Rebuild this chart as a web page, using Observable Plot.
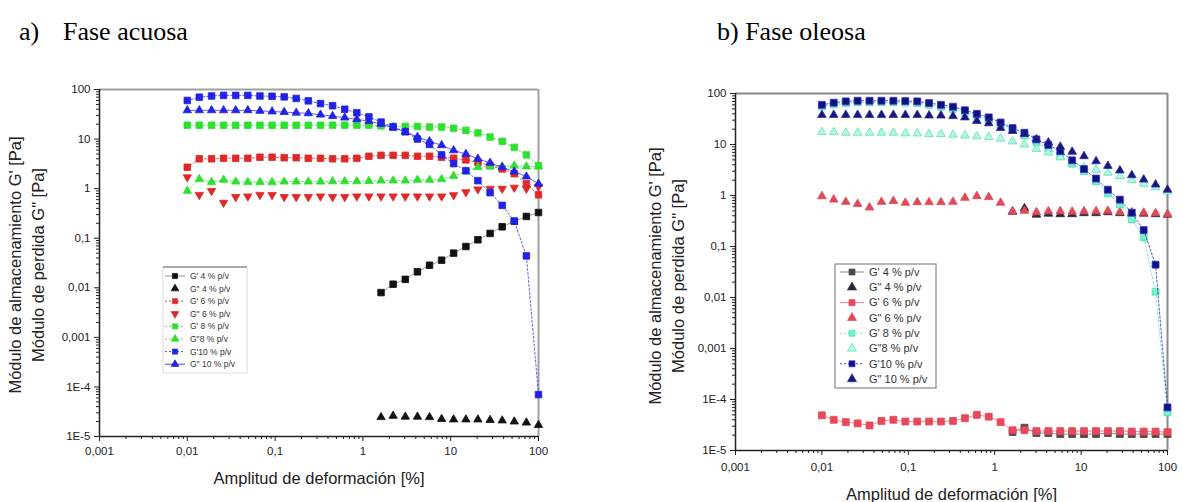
<!DOCTYPE html>
<html><head><meta charset="utf-8">
<script src="https://cdn.jsdelivr.net/npm/d3@7"></script>
<script src="https://cdn.jsdelivr.net/npm/@observablehq/plot@0.6"></script>
<style>
body{margin:0;background:#fff;}
#wrap{position:relative;width:1183px;height:502px;overflow:hidden;background:#fff;}
.panel{position:absolute;top:0;}
.title{position:absolute;font-family:"Liberation Serif","Times New Roman",serif;font-size:26px;line-height:26px;color:#000;white-space:pre;}
#overlay{position:absolute;left:0;top:0;pointer-events:none;}
</style></head><body>
<div id="wrap">
  <div id="pa" class="panel" style="left:0px"></div>
  <div id="pb" class="panel" style="left:590px"></div>
  <div class="title" style="left:19px;top:19px">a)</div>
  <div class="title" style="left:63px;top:19px">Fase acuosa</div>
  <div class="title" style="left:717px;top:19px">b) Fase oleosa</div>
</div>
<script>
// ---------- data ----------
const strain = [0.01, 0.0137, 0.0189, 0.0259, 0.0356, 0.0489, 0.0672, 0.0924, 0.127, 0.174, 0.239, 0.329, 0.452, 0.621, 0.853, 1.17, 1.61, 2.21, 3.04, 4.18, 5.74, 7.88, 10.8, 14.9, 20.4, 28.1, 38.6, 53.0, 72.8, 100];
const N = null;

const legendLabels = ["G' 4 % p/v", "G\" 4 % p/v", "G' 6 % p/v", "G\" 6 % p/v", "G' 8 % p/v", "G\"8 % p/v", "G'10 % p/v", "G\" 10 % p/v"];
const xTicks = [0.001, 0.01, 0.1, 1, 10, 100];
const xTickLabels = ["0,001", "0,01", "0,1", "1", "10", "100"];
const yTicks = [1e-5, 1e-4, 0.001, 0.01, 0.1, 1, 10, 100];
const yTickLabels = ["1E-5", "1E-4", "0,001", "0,01", "0,1", "1", "10", "100"];
const yTitle1 = "Módulo de almacenamiento G' [Pa]";
const yTitle2 = "Módulo de perdida G\" [Pa]";
const xTitle = "Amplitud de deformación [%]";

// a) Fase acuosa
const a_Gp4   = [N,N,N,N,N,N,N,N,N,N,N,N,N,N,N,N, 0.008, 0.0118, 0.0148, 0.021, 0.0285, 0.036, 0.05, 0.068, 0.093, 0.125, 0.17, 0.22, 0.275, 0.33];
const a_Gpp4  = [N,N,N,N,N,N,N,N,N,N,N,N,N,N,N,N, 2.45e-5, 2.6e-5, 2.5e-5, 2.5e-5, 2.45e-5, 2.25e-5, 2.2e-5, 2.2e-5, 2.2e-5, 2.15e-5, 2.1e-5, 2.0e-5, 1.9e-5, 1.7e-5];
const a_Gp6   = [2.7, 4.0, 4.0, 4.1, 4.1, 4.1, 4.3, 4.3, 4.2, 4.2, 4.1, 4.1, 4.0, 4.0, 4.1, 4.5, 4.7, 4.7, 4.7, 4.5, 4.5, 4.3, 4.1, 3.8, 3.4, 2.9, 2.5, 2.0, 1.25, 0.75];
const a_Gpp6  = [1.7, 0.75, 0.9, 0.52, 0.68, 0.7, 0.75, 0.75, 0.68, 0.68, 0.68, 0.7, 0.68, 0.68, 0.7, 0.7, 0.7, 0.7, 0.7, 0.7, 0.7, 0.7, 0.74, 0.85, 0.97, 1.0, 1.0, 1.05, 1.0, 1.1];
const a_Gp8   = [19, 19, 19, 19, 19, 19, 19, 19, 19, 19, 19, 19, 19, 19, 19, 19, 18.5, 18, 18, 18, 17.5, 17.5, 16.5, 15, 13.3, 11, 9, 6.8, 4.8, 2.9];
const a_Gpp8  = [0.9, 1.55, 1.35, 1.5, 1.38, 1.35, 1.35, 1.35, 1.38, 1.38, 1.38, 1.38, 1.4, 1.4, 1.4, 1.42, 1.45, 1.45, 1.45, 1.5, 1.5, 1.55, 1.8, 2.2, 2.7, 2.8, 2.8, 2.9, 2.8, 2.8];
const a_Gp10  = [60, 70, 74, 76, 76, 76, 74, 73, 71, 66, 59, 52, 47, 40, 34, 28, 22, 17.5, 14, 10, 7.8, 4.8, 3.2, 2.3, 1.45, 0.83, 0.46, 0.22, 0.044, 7e-5];
const a_Gpp10 = [38, 38, 38, 38, 38, 38, 37, 36, 35, 34, 33, 31, 29, 27, 25, 23, 20, 17, 14, 11, 9, 7.5, 5.9, 5.0, 4.0, 3.3, 2.7, 2.2, 1.75, 1.25];

// b) Fase oleosa
const b_Gp4   = [N,N,N,N,N,N,N,N,N,N,N,N,N,N,N,N, 2.3e-5, 2.8e-5, 2.2e-5, 2.2e-5, 2.1e-5, 2.1e-5, 2.1e-5, 2.1e-5, 2.2e-5, 2.1e-5, 2.1e-5, 2.1e-5, 2.1e-5, 2.1e-5];
const b_Gpp4  = [N,N,N,N,N,N,N,N,N,N,N,N,N,N,N,N, 0.48, 0.56, 0.42, 0.44, 0.43, 0.43, 0.45, 0.45, 0.47, 0.45, 0.44, 0.44, 0.43, 0.42];
const b_Gp6   = [4.9e-5, 4.0e-5, 3.6e-5, 3.4e-5, 3.1e-5, 3.8e-5, 4.0e-5, 3.7e-5, 3.7e-5, 3.7e-5, 3.7e-5, 3.8e-5, 4.3e-5, 5.0e-5, 4.6e-5, 3.6e-5, 2.5e-5, 2.5e-5, 2.4e-5, 2.4e-5, 2.4e-5, 2.4e-5, 2.4e-5, 2.4e-5, 2.4e-5, 2.4e-5, 2.35e-5, 2.35e-5, 2.35e-5, 2.3e-5];
const b_Gpp6  = [0.97, 0.83, 0.75, 0.68, 0.58, 0.75, 0.78, 0.72, 0.74, 0.74, 0.74, 0.75, 0.9, 0.97, 0.93, 0.72, 0.49, 0.5, 0.47, 0.49, 0.49, 0.48, 0.49, 0.49, 0.5, 0.47, 0.47, 0.46, 0.45, 0.43];
const b_Gp8   = [56, 61, 65, 67, 67, 67, 67, 66, 65, 60, 55, 50, 43, 37, 31, 25, 19.5, 15, 11, 8.3, 6.0, 4.2, 3.0, 1.9, 1.1, 0.67, 0.34, 0.15, 0.013, 5.6e-5];
const b_Gpp8  = [17.5, 17.5, 17, 17, 17, 17, 17, 16.5, 16.5, 16, 16, 15.5, 15, 14.5, 14, 13, 11.5, 10, 8.2, 7, 5.6, 4.4, 3.6, 3.2, 2.8, 2.4, 2.0, 1.7, 1.45, 1.2];
const b_Gp10  = [60, 66, 70, 72, 72, 72, 72, 71, 70, 65, 60, 55, 47, 40, 34, 27, 21, 17, 12.6, 9.8, 7.4, 4.9, 3.3, 2.15, 1.3, 0.83, 0.46, 0.21, 0.044, 7e-5];
const b_Gpp10 = [38, 38, 38, 38, 38, 38, 38, 38, 38, 37, 37, 36, 34, 29, 26, 21, 18.4, 16, 12.6, 10.9, 9, 7.2, 5.9, 4.7, 3.8, 3.1, 2.5, 2.05, 1.64, 1.3];

// ---------- styles ----------
const stylesA = [
  {fill:"#111111", stroke:"#111111", sym:"square",   rot:0,   line:"#888888", dash:null},
  {fill:"#111111", stroke:"#111111", sym:"triangle", rot:0,   line:null},
  {fill:"#e02828", stroke:"#e02828", sym:"square",   rot:0,   line:"#e04040", dash:"2,2"},
  {fill:"#e02828", stroke:"#e02828", sym:"triangle", rot:180, line:null},
  {fill:"#2ee02e", stroke:"#2ee02e", sym:"square",   rot:0,   line:"#44dd44", dash:"2,2"},
  {fill:"#2ee02e", stroke:"#2ee02e", sym:"triangle", rot:0,   line:"#44dd44", dash:"2,2"},
  {fill:"#2222e6", stroke:"#2222e6", sym:"square",   rot:0,   line:"#3a3ae8", dash:"2,2"},
  {fill:"#2222e6", stroke:"#2222e6", sym:"triangle", rot:0,   line:"#3a3ae8", dash:null}
];
const stylesB = [
  {fill:"#4a4a4a", stroke:"#4a4a4a", sym:"square",   rot:0, line:"#777777", dash:null},
  {fill:"#2a2a3a", stroke:"#2a2a3a", sym:"triangle", rot:0, line:null},
  {fill:"#e8485a", stroke:"#e8485a", sym:"square",   rot:0, line:"#ee7080", dash:null},
  {fill:"#e04a58", stroke:"#e04a58", sym:"triangle", rot:0, line:null},
  {fill:"#78f0cc", stroke:"#50dcb0", sym:"square",   rot:0, line:"#60e8c0", dash:"2,2"},
  {fill:"#b4f7e2", stroke:"#5ee0b8", sym:"triangle", rot:0, line:null},
  {fill:"#10107e", stroke:"#3434d0", sym:"square",   rot:0, line:"#3030b0", dash:"2,2"},
  {fill:"#18186e", stroke:"#2a2ab8", sym:"triangle", rot:0, line:null}
];

const xMinor = [], yMinor = [];
for (let e = -3; e < 2; e++) for (let m = 2; m < 10; m++) xMinor.push(m * Math.pow(10, e));
for (let e = -5; e < 2; e++) for (let m = 2; m < 10; m++) yMinor.push(m * Math.pow(10, e));

function buildPanel(cfg) {
  const marks = [
    Plot.ruleY([yTicks[yTicks.length - 1]], {stroke: cfg.frameColor, strokeWidth: 2}),
    Plot.ruleX([xTicks[xTicks.length - 1]], {stroke: cfg.frameColor, strokeWidth: 2})
  ];
  cfg.series.forEach((vals, k) => {
    const st = cfg.styles[k];
    const rows = [];
    vals.forEach((v, i) => { if (v != null) rows.push({x: strain[i], y: v}); });
    if (st.line) marks.push(Plot.line(rows, {x: "x", y: "y", stroke: st.line, strokeWidth: 0.8, strokeDasharray: st.dash || undefined}));
    marks.push(Plot.dot(rows, {x: "x", y: "y", symbol: st.sym, fill: st.fill, stroke: st.stroke, strokeWidth: 0.8,
      r: st.sym === "square" ? cfg.rSq : cfg.rTri, rotate: st.rot}));
  });
  marks.push(
    Plot.axisX(xMinor, {tickSize: 3, tickFormat: () => "", label: null, stroke: "#222"}),
    Plot.axisX(xTicks, {tickSize: 5, tickPadding: cfg.xPad, tickFormat: d => xTickLabels[xTicks.indexOf(d)], label: null, stroke: "#222", fill: "#222", fontSize: cfg.tickFont}),
    Plot.axisY(yMinor, {tickSize: 3, tickFormat: () => "", label: null, stroke: "#222"}),
    Plot.axisY(yTicks, {tickSize: 5, tickPadding: 4, tickFormat: d => yTickLabels[yTicks.indexOf(d)], label: null, stroke: "#222", fill: "#222", fontSize: cfg.tickFont}),
    Plot.ruleX([xTicks[0]], {stroke: "#222", strokeWidth: 1.5}),
    Plot.ruleY([yTicks[0]], {stroke: "#222", strokeWidth: 1.5}),
    Plot.text([yTitle1], {text: d => d, frameAnchor: "left", textAnchor: "middle", lineAnchor: "middle", rotate: -90, dx: cfg.yT1, dy: cfg.yTdy, fontSize: 16.5, fill: "#222"}),
    Plot.text([yTitle2], {text: d => d, frameAnchor: "left", textAnchor: "middle", lineAnchor: "middle", rotate: -90, dx: cfg.yT2, dy: cfg.yTdy, fontSize: 16.5, fill: "#222"}),
    Plot.text([xTitle], {text: d => d, frameAnchor: "bottom", textAnchor: "middle", lineAnchor: "middle", dy: cfg.xT, fontSize: 16.5, fill: "#222"})
  );
  return Plot.plot({
    width: cfg.width, height: 502,
    marginLeft: cfg.ml, marginRight: cfg.mr, marginTop: cfg.mt, marginBottom: cfg.mb,
    x: {type: "log", domain: [xTicks[0], xTicks[xTicks.length - 1]], label: null},
    y: {type: "log", domain: [yTicks[0], yTicks[yTicks.length - 1]], label: null},
    style: {fontFamily: "'Liberation Sans', Arial, sans-serif", fontSize: "11.5px", color: "#222", background: "transparent", overflow: "visible"},
    marks
  });
}

const plotA = buildPanel({
  width: 590, ml: 99, mr: 52, mt: 89, mb: 66, frameColor: "#a0a0a0",
  series: [a_Gp4, a_Gpp4, a_Gp6, a_Gpp6, a_Gp8, a_Gpp8, a_Gp10, a_Gpp10], styles: stylesA,
  rSq: 3.7, rTri: 3.1, yT1: -84, yT2: -61, yTdy: 2, xT: 42, xPad: 5, tickFont: 11.5
});
document.getElementById("pa").appendChild(plotA);

const plotB = buildPanel({
  width: 593, ml: 145, mr: 16, mt: 93, mb: 52, frameColor: "#8a8a8a",
  series: [b_Gp4, b_Gpp4, b_Gp6, b_Gpp6, b_Gp8, b_Gpp8, b_Gp10, b_Gpp10], styles: stylesB,
  rSq: 3.9, rTri: 3.2, yT1: -80, yT2: -57, yTdy: 4, xT: 44, xPad: 7, tickFont: 11.5
});
document.getElementById("pb").appendChild(plotB);

// ---------- legends (overlay) ----------
const ov = d3.select("#wrap").append("svg").attr("id", "overlay").attr("width", 1183).attr("height", 502);
function legend(box, styles, opt) {
  const g = ov.append("g");
  g.append("rect").attr("x", box.x).attr("y", box.y).attr("width", box.w).attr("height", box.h)
    .attr("fill", "#fff").attr("stroke", opt.border).attr("stroke-width", opt.bw);
  if (opt.topLine) g.append("line").attr("x1", box.x).attr("x2", box.x + box.w).attr("y1", box.y).attr("y2", box.y)
    .attr("stroke", opt.topLine).attr("stroke-width", 2);
  legendLabels.forEach((lab, i) => {
    const st = styles[i];
    const y = opt.y0 + i * opt.dy;
    if (st.line) g.append("line").attr("x1", opt.l1).attr("x2", opt.l2).attr("y1", y).attr("y2", y)
      .attr("stroke", st.line).attr("stroke-width", 0.9).attr("stroke-dasharray", st.dash || null);
    const sym = st.sym === "square" ? d3.symbolSquare : d3.symbolTriangle;
    g.append("path").attr("d", d3.symbol(sym, opt.size)())
      .attr("transform", `translate(${opt.mx},${y}) rotate(${st.rot})`)
      .attr("fill", st.fill).attr("stroke", st.stroke).attr("stroke-width", 0.7);
    g.append("text").attr("x", opt.tx).attr("y", y).attr("dy", "0.35em").text(lab)
      .attr("font-family", "'Liberation Sans', Arial, sans-serif").attr("font-size", opt.fs).attr("fill", "#333");
  });
}
legend({x: 163, y: 267, w: 84, h: 106}, stylesA,
  {border: "#dddddd", bw: 1, topLine: "#aaaaaa", y0: 276, dy: 12.6, mx: 175, l1: 165, l2: 185, tx: 190, fs: 8.5, size: 26});
legend({x: 835, y: 264, w: 101, h: 124}, stylesB,
  {border: "#888888", bw: 1.2, topLine: null, y0: 272, dy: 15.3, mx: 852, l1: 840, l2: 864, tx: 869, fs: 11, size: 36});
</script>
</body></html>
